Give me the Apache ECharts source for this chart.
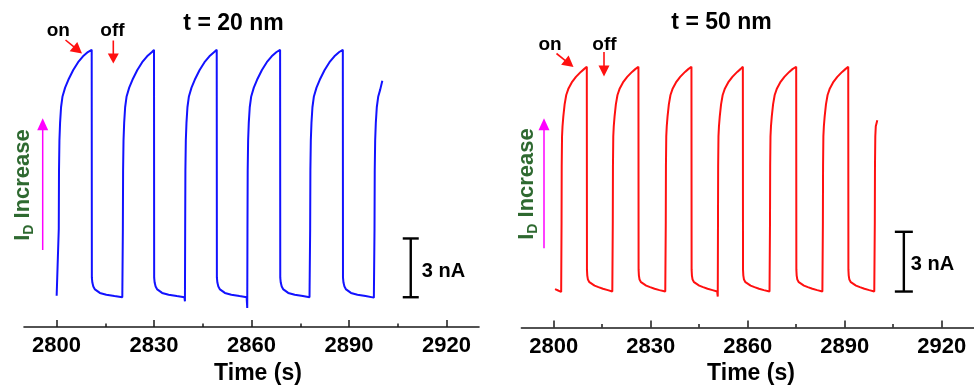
<!DOCTYPE html>
<html>
<head>
<meta charset="utf-8">
<script src="https://cdn.jsdelivr.net/npm/echarts@6/dist/echarts.min.js"></script>
<style>html,body{margin:0;padding:0;background:#fff}#c{width:974px;height:387px}</style>
</head>
<body>
<div id="c"></div>
<script>
// ---------- data (time in s, current in nA relative to off-state baseline) ----------
const tickValues = [2800, 2830, 2860, 2890, 2920];
const minorTickValues = [2815, 2845, 2875, 2905];
const panelTitles = ['t = 20 nm', 't = 50 nm'];
const scaleBarLeft = [[2909.0, 0, 3]];
const scaleBarRight = [[2908.3, 0, 3]];
const scaleBarLabel = '3 nA';

const blueSignal = [
[2800.05,0.08],[2800.40,0.02],
[2800.65,0.0],[2800.70,3.5],[2800.77,6.5],[2800.90,8.0],[2801.10,8.9],[2801.40,9.7],[2801.85,10.25],[2802.65,10.7],[2803.65,11.1],[2805.15,11.6],[2806.65,12.0],[2808.15,12.3],[2809.65,12.52],[2810.83,12.63],
[2810.88,1.0],[2811.03,0.75],[2811.33,0.55],[2811.83,0.4],[2812.33,0.3],[2813.33,0.22],[2815.33,0.13],[2817.83,0.06],[2820.25,0.0],
[2820.37,-0.02],[2820.42,3.5],[2820.49,6.5],[2820.62,8.0],[2820.82,8.9],[2821.12,9.7],[2821.57,10.25],[2822.37,10.7],[2823.37,11.1],[2824.87,11.6],[2826.37,12.0],[2827.87,12.3],[2829.37,12.52],[2830.00,12.63],
[2830.05,1.0],[2830.20,0.75],[2830.50,0.55],[2831.00,0.4],[2831.50,0.3],[2832.50,0.22],[2834.50,0.13],[2837.00,0.06],[2839.35,0.0],
[2839.52,-0.21],[2839.59,3.5],[2839.66,6.5],[2839.79,8.0],[2839.99,8.9],[2840.29,9.7],[2840.74,10.25],[2841.54,10.7],[2842.54,11.1],[2844.04,11.6],[2845.54,12.0],[2847.04,12.3],[2848.54,12.52],[2849.30,12.63],
[2849.35,1.0],[2849.50,0.75],[2849.80,0.55],[2850.30,0.4],[2850.80,0.3],[2851.80,0.22],[2853.80,0.13],[2856.30,0.06],[2858.50,0.0],
[2858.69,-0.55],[2858.76,3.5],[2858.83,6.5],[2858.96,8.0],[2859.16,8.9],[2859.46,9.7],[2859.91,10.25],[2860.71,10.7],[2861.71,11.1],[2863.21,11.6],[2864.71,12.0],[2866.21,12.3],[2867.71,12.52],[2868.80,12.63],
[2868.85,1.0],[2869.00,0.75],[2869.30,0.55],[2869.80,0.4],[2870.30,0.3],[2871.30,0.22],[2873.30,0.13],[2875.80,0.06],[2877.85,0.0],
[2878.00,-0.05],[2878.05,3.5],[2878.12,6.5],[2878.25,8.0],[2878.45,8.9],[2878.75,9.7],[2879.20,10.25],[2880.00,10.7],[2881.00,11.1],[2882.50,11.6],[2884.00,12.0],[2885.50,12.3],[2887.00,12.52],[2888.10,12.63],
[2888.15,1.0],[2888.30,0.75],[2888.60,0.55],[2889.10,0.4],[2889.60,0.3],[2890.60,0.22],[2892.60,0.13],[2895.10,0.06],[2897.65,-0.02],
[2897.80,-0.05],[2897.85,3.5],[2897.92,6.5],[2898.05,8.0],[2898.25,8.9],[2898.55,9.7],[2899.00,10.25],[2899.60,10.6],[2900.25,11.05]
];

const redSignal = [
[2800.40,0.12],[2801.40,0.05],[2802.30,-0.02],
[2802.37,-0.03],[2802.42,3.5],[2802.47,6.3],[2802.57,7.8],[2802.72,8.3],[2802.97,8.8],[2803.37,9.4],[2803.87,9.87],[2804.57,10.2],[2805.57,10.5],[2806.87,10.78],[2808.37,11.03],[2809.37,11.17],[2810.23,11.29],
[2810.28,1.1],[2810.38,0.8],[2810.58,0.6],[2811.03,0.47],[2811.63,0.38],[2812.63,0.3],[2813.83,0.22],[2815.23,0.14],[2816.73,0.07],[2818.12,0.0],
[2818.22,-0.02],[2818.27,3.5],[2818.32,6.3],[2818.42,7.8],[2818.57,8.3],[2818.82,8.8],[2819.22,9.4],[2819.72,9.87],[2820.42,10.2],[2821.42,10.5],[2822.72,10.78],[2824.22,11.03],[2825.22,11.17],[2826.20,11.29],
[2826.25,1.1],[2826.35,0.8],[2826.55,0.6],[2827.00,0.47],[2827.60,0.38],[2828.60,0.3],[2829.80,0.22],[2831.20,0.14],[2832.70,0.07],[2834.50,0.0],
[2834.61,-0.03],[2834.66,3.5],[2834.71,6.3],[2834.81,7.8],[2834.96,8.3],[2835.21,8.8],[2835.61,9.4],[2836.11,9.87],[2836.81,10.2],[2837.81,10.5],[2839.11,10.78],[2840.61,11.03],[2841.61,11.17],[2842.60,11.29],
[2842.65,1.1],[2842.75,0.8],[2842.95,0.6],[2843.40,0.47],[2844.00,0.38],[2845.00,0.3],[2846.20,0.22],[2847.60,0.14],[2849.10,0.07],[2850.55,0.0],
[2850.74,-0.25],[2850.81,3.5],[2850.86,6.3],[2850.96,7.8],[2851.11,8.3],[2851.36,8.8],[2851.76,9.4],[2852.26,9.87],[2852.96,10.2],[2853.96,10.5],[2855.26,10.78],[2856.76,11.03],[2857.76,11.17],[2858.50,11.29],
[2858.55,1.1],[2858.65,0.8],[2858.85,0.6],[2859.30,0.47],[2859.90,0.38],[2860.90,0.3],[2862.10,0.22],[2863.50,0.14],[2865.00,0.07],[2866.75,0.0],
[2866.85,-0.02],[2866.90,3.5],[2866.95,6.3],[2867.05,7.8],[2867.20,8.3],[2867.45,8.8],[2867.85,9.4],[2868.35,9.87],[2869.05,10.2],[2870.05,10.5],[2871.35,10.78],[2872.85,11.03],[2873.85,11.17],[2875.00,11.29],
[2875.05,1.1],[2875.15,0.8],[2875.35,0.6],[2875.80,0.47],[2876.40,0.38],[2877.40,0.3],[2878.60,0.22],[2880.00,0.14],[2881.50,0.07],[2883.10,0.0],
[2883.21,-0.02],[2883.26,3.5],[2883.31,6.3],[2883.41,7.8],[2883.56,8.3],[2883.81,8.8],[2884.21,9.4],[2884.71,9.87],[2885.41,10.2],[2886.41,10.5],[2887.71,10.78],[2889.21,11.03],[2890.21,11.17],[2891.10,11.29],
[2891.15,1.1],[2891.25,0.8],[2891.45,0.6],[2891.90,0.47],[2892.50,0.38],[2893.50,0.3],[2894.70,0.22],[2896.10,0.14],[2897.60,0.07],[2899.15,0.0],
[2899.27,-0.03],[2899.32,3.5],[2899.37,6.3],[2899.47,7.8],[2899.62,8.3],[2900.09,8.6]
];

// ---------- styling ----------
const FONT = "'Liberation Sans', Arial, Helvetica, sans-serif";
const GREEN = '#2e6930';
const MAGENTA = '#ff00ff';
const RED = '#ff1010';
const BLUE = '#1212ff';

function makeXAxes(gridIndex) {
  return [{
    type: 'value', gridIndex: gridIndex, min: 2790, max: 2930, position: 'bottom',
    axisLine: { show: true, onZero: false, lineStyle: { color: '#1a1a1a', width: 1.6 } },
    axisTick: { show: true, inside: true, length: 7, customValues: tickValues, lineStyle: { color: '#1a1a1a', width: 1.5 } },
    axisLabel: { show: true, customValues: tickValues, margin: 8, color: '#000', fontSize: 22, fontWeight: 'bold', fontFamily: FONT,
      formatter: function (v) { return String(v); } },
    splitLine: { show: false }
  }, {
    type: 'value', gridIndex: gridIndex, min: 2790, max: 2930, position: 'bottom',
    axisLine: { show: false, onZero: false },
    axisTick: { show: true, inside: true, length: 3.5, customValues: minorTickValues, lineStyle: { color: '#1a1a1a', width: 1.5 } },
    axisLabel: { show: false },
    splitLine: { show: false }
  }];
}

function scaleBarSeries(xAxisIndex, yAxisIndex, data, cap, textDx, textDy) {
  return {
    type: 'custom', coordinateSystem: 'cartesian2d', xAxisIndex: xAxisIndex, yAxisIndex: yAxisIndex,
    data: data, silent: true, clip: false,
    renderItem: function (params, api) {
      const p0 = api.coord([api.value(0), api.value(1)]);
      const p1 = api.coord([api.value(0), api.value(2)]);
      const ls = { stroke: '#000', lineWidth: 2.4 };
      return {
        type: 'group', children: [
          { type: 'line', shape: { x1: p0[0], y1: p0[1], x2: p1[0], y2: p1[1] }, style: ls },
          { type: 'line', shape: { x1: p0[0] - cap, y1: p0[1], x2: p0[0] + cap, y2: p0[1] }, style: ls },
          { type: 'line', shape: { x1: p1[0] - cap, y1: p1[1], x2: p1[0] + cap, y2: p1[1] }, style: ls },
          { type: 'text', style: { text: scaleBarLabel, x: p0[0] + textDx, y: (p0[1] + p1[1]) / 2 + textDy,
              fill: '#000', fontSize: 20, fontWeight: 'bold', fontFamily: FONT, align: 'left', verticalAlign: 'middle' } }
        ]
      };
    }
  };
}

function arrow(x1, y1, x2, y2, color, headLen, headW, lw) {
  const dx = x2 - x1, dy = y2 - y1, L = Math.sqrt(dx * dx + dy * dy);
  const ux = dx / L, uy = dy / L, nx = -uy, ny = ux;
  const bx = x2 - ux * headLen, by = y2 - uy * headLen;
  return {
    type: 'group', silent: true, children: [
      { type: 'line', shape: { x1: x1, y1: y1, x2: bx + ux, y2: by + uy }, style: { stroke: color, lineWidth: lw } },
      { type: 'polygon', shape: { points: [[x2, y2], [bx + nx * headW / 2, by + ny * headW / 2], [bx - nx * headW / 2, by - ny * headW / 2]] }, style: { fill: color } }
    ]
  };
}

function txt(x, y, text, size, color, extra) {
  return Object.assign({ type: 'text', x: x, y: y, silent: true,
    style: { text: text, fill: color, fontSize: size, fontWeight: 'bold', fontFamily: FONT, align: 'center', verticalAlign: 'middle' } }, extra || {});
}

function idLabel(x, y) {
  return { type: 'text', x: x, y: y, rotation: Math.PI / 2, silent: true,
    style: { text: '{i|I}{d|D}{i| Increase}', align: 'center', verticalAlign: 'middle',
      rich: {
        i: { fontSize: 22, fontWeight: 'bold', fontFamily: FONT, fill: GREEN, lineHeight: 26, verticalAlign: 'middle' },
        d: { fontSize: 14, fontWeight: 'bold', fontFamily: FONT, fill: GREEN, lineHeight: 26, verticalAlign: 'bottom' }
      } } };
}

const chart = echarts.init(document.getElementById('c'), null, { renderer: 'canvas' });
chart.setOption({
  animation: false,
  backgroundColor: '#fff',
  grid: [
    { left: 24, top: 5, width: 455, bottom: 60 },
    { left: 521.4, top: 5, width: 456, bottom: 59.5 }
  ],
  xAxis: makeXAxes(0).concat(makeXAxes(1)),
  yAxis: [
    { type: 'value', gridIndex: 0, min: -1.52, max: 14.92, show: false },
    { type: 'value', gridIndex: 1, min: -1.806, max: 14.39, show: false }
  ],
  series: [
    { type: 'line', xAxisIndex: 0, yAxisIndex: 0, data: blueSignal, showSymbol: false, symbol: 'none',
      lineStyle: { color: BLUE, width: 2 }, itemStyle: { color: BLUE }, silent: true },
    { type: 'line', xAxisIndex: 2, yAxisIndex: 1, data: redSignal, showSymbol: false, symbol: 'none',
      lineStyle: { color: RED, width: 2 }, itemStyle: { color: RED }, silent: true },
    scaleBarSeries(0, 0, scaleBarLeft, 8, 11, 4),
    scaleBarSeries(2, 1, scaleBarRight, 9, 7, 3)
  ],
  graphic: [
    txt(233.5, 23.5, panelTitles[0], 23, '#000'),
    txt(721.5, 23, panelTitles[1], 23, '#000'),
    txt(58.3, 31, 'on', 19, '#000'),
    txt(112.5, 31, 'off', 19, '#000'),
    txt(550, 45, 'on', 19, '#000'),
    txt(604.5, 45, 'off', 19, '#000'),
    arrow(65.5, 40, 82, 53.5, RED, 11, 12, 1.6),
    arrow(113.3, 40.5, 113.3, 63.5, RED, 10, 11, 1.6),
    arrow(556.5, 53.5, 573.5, 67, RED, 11, 12, 1.6),
    arrow(604, 52, 604, 76.5, RED, 11, 11, 1.6),
    arrow(42.7, 250, 42.7, 118.3, MAGENTA, 12, 11, 1.5),
    arrow(544, 248.3, 544, 118.3, MAGENTA, 12, 11, 1.5),
    idLabel(23.3, 185),
    idLabel(526.7, 184),
    txt(258, 373.5, 'Time (s)', 23, '#000'),
    txt(751, 373.5, 'Time (s)', 23, '#000')
  ]
});
</script>
</body>
</html>
